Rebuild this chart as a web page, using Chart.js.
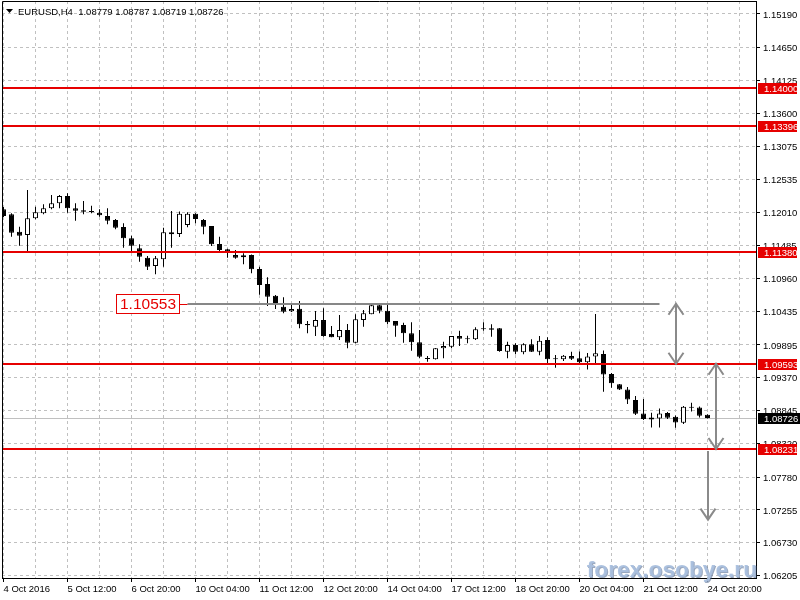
<!DOCTYPE html>
<html>
<head>
<meta charset="utf-8">
<script src="https://cdn.jsdelivr.net/npm/chart.js@4.4.0/dist/chart.umd.min.js"></script>
<style>
  html, body { margin: 0; padding: 0; background: #fff; }
  #wrap { width: 800px; height: 600px; position: relative; }
</style>
</head>
<body>
<div id="wrap"><canvas id="chart" width="800" height="600"></canvas></div>
<script>
// EURUSD H4 candles, 4 Oct 2016 04:00 .. 24 Oct 2016 20:00
const symbol = 'EURUSD,H4';
const opens = [
  1.12064, 1.11984, 1.11706, 1.11653, 1.11920, 1.12000, 1.12080, 1.12160, 1.12277, 1.12080,
  1.12048, 1.12037, 1.12010, 1.11957, 1.11893, 1.11781, 1.11600, 1.11440, 1.11290, 1.11157,
  1.11264, 1.11696, 1.11669, 1.11813, 1.11992, 1.11893, 1.11797, 1.11509, 1.11424, 1.11333,
  1.11296, 1.11333, 1.11109, 1.10869, 1.10682, 1.10506, 1.10432, 1.10474, 1.10229, 1.10186,
  1.10293, 1.10069, 1.10016, 1.10133, 1.09930, 1.10293, 1.10384, 1.10530, 1.10442, 1.10277,
  1.10213, 1.10080, 1.09936, 1.09669, 1.09664, 1.09840, 1.09866, 1.10037, 1.09984, 1.09984,
  1.10144, 1.10160, 1.10160, 1.09786, 1.09893, 1.09776, 1.09904, 1.09786, 1.09973, 1.09664,
  1.09664, 1.09717, 1.09680, 1.09616, 1.09709, 1.09749, 1.09429, 1.09264, 1.09184, 1.09013,
  1.08800, 1.08704, 1.08720, 1.08805, 1.08746, 1.08650, 1.08890, 1.08893, 1.08779
];
const highs = [
  1.12101, 1.12000, 1.11786, 1.12373, 1.12106, 1.12144, 1.12293, 1.12293, 1.12320, 1.12160,
  1.12197, 1.12122, 1.12064, 1.12080, 1.11909, 1.11840, 1.11642, 1.11504, 1.11317, 1.11317,
  1.11770, 1.12037, 1.12029, 1.12016, 1.12000, 1.11909, 1.11797, 1.11626, 1.11434, 1.11413,
  1.11360, 1.11340, 1.11146, 1.10976, 1.10693, 1.10656, 1.10544, 1.10597, 1.10277, 1.10437,
  1.10480, 1.10197, 1.10373, 1.10229, 1.10384, 1.10453, 1.10553, 1.10553, 1.10533, 1.10277,
  1.10250, 1.10256, 1.10133, 1.09717, 1.09845, 1.09946, 1.10037, 1.10122, 1.10042, 1.10176,
  1.10256, 1.10224, 1.10165, 1.09946, 1.09920, 1.09920, 1.09984, 1.10037, 1.10016, 1.09733,
  1.09733, 1.09786, 1.09789, 1.09765, 1.10389, 1.09805, 1.09445, 1.09269, 1.09221, 1.09077,
  1.09029, 1.08810, 1.08880, 1.08821, 1.08768, 1.08917, 1.08970, 1.08912, 1.08787
];
const lows = [
  1.11941, 1.11626, 1.11482, 1.11386, 1.11904, 1.11984, 1.12064, 1.12080, 1.12010, 1.11882,
  1.11984, 1.12000, 1.11946, 1.11824, 1.11744, 1.11450, 1.11376, 1.11226, 1.11093, 1.11024,
  1.11146, 1.11450, 1.11621, 1.11776, 1.11840, 1.11664, 1.11477, 1.11397, 1.11290, 1.11274,
  1.11184, 1.11040, 1.10698, 1.10517, 1.10469, 1.10400, 1.10421, 1.10160, 1.10080, 1.10037,
  1.10026, 1.10016, 1.09973, 1.09840, 1.09920, 1.10186, 1.10384, 1.10400, 1.10224, 1.10026,
  1.09930, 1.09802, 1.09680, 1.09626, 1.09660, 1.09680, 1.09840, 1.09877, 1.09920, 1.09973,
  1.10122, 1.10026, 1.09786, 1.09680, 1.09744, 1.09744, 1.09781, 1.09728, 1.09600, 1.09530,
  1.09637, 1.09653, 1.09600, 1.09501, 1.09600, 1.09146, 1.09210, 1.09173, 1.08949, 1.08773,
  1.08693, 1.08573, 1.08573, 1.08709, 1.08570, 1.08629, 1.08829, 1.08736, 1.08719
];
const closes = [
  1.11957, 1.11690, 1.11642, 1.11920, 1.12016, 1.12080, 1.12160, 1.12277, 1.12080, 1.12042,
  1.12026, 1.12016, 1.11968, 1.11882, 1.11770, 1.11600, 1.11482, 1.11306, 1.11146, 1.11280,
  1.11696, 1.11664, 1.11992, 1.11992, 1.11909, 1.11786, 1.11504, 1.11413, 1.11376, 1.11290,
  1.11328, 1.11104, 1.10853, 1.10666, 1.10533, 1.10426, 1.10469, 1.10224, 1.10208, 1.10293,
  1.10037, 1.10016, 1.10133, 1.09930, 1.10304, 1.10400, 1.10530, 1.10442, 1.10256, 1.10202,
  1.10080, 1.09936, 1.09706, 1.09669, 1.09840, 1.09877, 1.10037, 1.09994, 1.09984, 1.10144,
  1.10144, 1.10138, 1.09797, 1.09893, 1.09786, 1.09904, 1.09786, 1.09962, 1.09664, 1.09664,
  1.09722, 1.09674, 1.09616, 1.09709, 1.09760, 1.09421, 1.09280, 1.09184, 1.09024, 1.08794,
  1.08709, 1.08736, 1.08800, 1.08730, 1.08653, 1.08906, 1.08890, 1.08762, 1.08726
];

// time axis labels, one every 8 bars
const xLabels = ['4 Oct 2016', '5 Oct 12:00', '6 Oct 20:00', '10 Oct 04:00', '11 Oct 12:00', '12 Oct 20:00',
  '14 Oct 04:00', '17 Oct 12:00', '18 Oct 20:00', '20 Oct 04:00', '21 Oct 12:00', '24 Oct 20:00'];
const yTicks = [1.15190, 1.14650, 1.14125, 1.13600, 1.13075, 1.12535, 1.12010, 1.11485, 1.10960,
  1.10435, 1.09895, 1.09370, 1.08845, 1.08320, 1.07780, 1.07255, 1.06730, 1.06205];

// drawn objects
const levels = [1.14000, 1.13396, 1.11380, 1.09593, 1.08231];
const markedLevel = 1.10553;
const markedFrom = 23;
const markedTo = 82;
const arrowBars = [84, 89, 88];
const arrowFrom = [1.10553, 1.09593, 1.08200];
const arrowTo = [1.09593, 1.08231, 1.07100];
const arrowHeads = [2, 2, 1];

const last = closes.length - 1;
const idx = closes.map((_, i) => i);

const RED = '#e60000';
const AXIS_FONT = { family: 'Liberation Sans', size: 9.5 };

function drawHead(ctx, x, y, dir) {
  ctx.beginPath();
  ctx.moveTo(x - 7.5, y + dir * 11);
  ctx.lineTo(x, y);
  ctx.lineTo(x + 7.5, y + dir * 11);
  ctx.stroke();
}

const objectsPlugin = {
  id: 'objects',
  beforeDatasetsDraw(chart) {
    const { ctx, chartArea: a, scales: { y } } = chart;
    // bid line
    const by = Math.round(y.getPixelForValue(closes[last])) + 0.5;
    ctx.save();
    ctx.strokeStyle = '#c0c0c0';
    ctx.lineWidth = 1;
    ctx.beginPath();
    ctx.moveTo(a.left, by);
    ctx.lineTo(a.right, by);
    ctx.stroke();
    ctx.restore();
  },
  afterDatasetsDraw(chart) {
    const { ctx, chartArea: a, scales: { x, y } } = chart;
    ctx.save();
    // horizontal red levels
    ctx.strokeStyle = RED;
    ctx.lineWidth = 2;
    levels.forEach(v => {
      const py = Math.round(y.getPixelForValue(v));
      ctx.beginPath();
      ctx.moveTo(a.left, py);
      ctx.lineTo(a.right, py);
      ctx.stroke();
    });

    // marked level with its price label
    const my = Math.round(y.getPixelForValue(markedLevel));
    const mx1 = x.getPixelForValue(markedFrom);
    const mx2 = x.getPixelForValue(markedTo);
    ctx.strokeStyle = '#878787';
    ctx.lineWidth = 2;
    ctx.beginPath();
    ctx.moveTo(mx1, my);
    ctx.lineTo(mx2, my);
    ctx.stroke();
    const bx = Math.round(mx1) - 72;
    ctx.strokeStyle = RED;
    ctx.lineWidth = 1;
    ctx.beginPath();
    ctx.moveTo(bx + 63, my + 0.5);
    ctx.lineTo(mx1, my + 0.5);
    ctx.stroke();
    ctx.fillStyle = '#fff';
    ctx.fillRect(bx, my - 10, 63, 20);
    ctx.strokeRect(bx + 0.5, my - 9.5, 63, 19);
    ctx.fillStyle = RED;
    ctx.font = '15.5px "Liberation Sans"';
    ctx.textAlign = 'center';
    ctx.textBaseline = 'middle';
    ctx.fillText(markedLevel.toFixed(5), bx + 32, my + 1);

    // arrows
    ctx.strokeStyle = '#8a8a8a';
    ctx.lineWidth = 2;
    arrowBars.forEach((b, i) => {
      const ax = Math.round(x.getPixelForValue(b));
      const y1 = y.getPixelForValue(arrowFrom[i]);
      const y2 = y.getPixelForValue(arrowTo[i]);
      ctx.beginPath();
      ctx.moveTo(ax, y1);
      ctx.lineTo(ax, y2);
      ctx.stroke();
      drawHead(ctx, ax, y2, -1);
      if (arrowHeads[i] === 2) drawHead(ctx, ax, y1, 1);
    });
    ctx.restore();
  },
  afterDraw(chart) {
    const { ctx, chartArea: a, scales: { y } } = chart;
    ctx.save();
    // frame top / left
    ctx.strokeStyle = '#000';
    ctx.lineWidth = 1;
    ctx.beginPath();
    ctx.moveTo(a.left + 0.5, a.bottom);
    ctx.lineTo(a.left + 0.5, a.top + 0.5);
    ctx.lineTo(a.right, a.top + 0.5);
    ctx.stroke();

    // price tags on the axis
    ctx.font = '9.5px "Liberation Sans"';
    ctx.textAlign = 'left';
    ctx.textBaseline = 'middle';
    const tag = (v, color, w) => {
      const py = Math.round(y.getPixelForValue(v));
      ctx.fillStyle = color;
      ctx.fillRect(a.right + 2, py - 5, w, 11);
      ctx.fillStyle = '#fff';
      ctx.fillText(v.toFixed(5), a.right + 8, py + 1);
    };
    levels.forEach(v => tag(v, RED, 39));
    tag(closes[last], '#000', 44);

    // header
    ctx.fillStyle = '#000';
    ctx.beginPath();
    ctx.moveTo(6, 9);
    ctx.lineTo(13, 9);
    ctx.lineTo(9.5, 13);
    ctx.closePath();
    ctx.fill();
    ctx.font = '9.5px "Liberation Sans"';
    ctx.textBaseline = 'alphabetic';
    const hdr = symbol + '  ' + [opens[last], highs[last], lows[last], closes[last]].map(v => v.toFixed(5)).join(' ');
    ctx.fillText(hdr, 18, 15);

    // watermark
    ctx.font = 'bold 22.7px "Liberation Sans"';
    ctx.textAlign = 'right';
    ctx.textBaseline = 'alphabetic';
    ctx.fillStyle = 'rgba(70,95,135,0.55)';
    ctx.fillText('forex.osobye.ru', 758, 578);
    ctx.fillStyle = 'rgba(170,192,222,0.95)';
    ctx.fillText('forex.osobye.ru', 757, 577);
    ctx.restore();
  }
};

new Chart(document.getElementById('chart'), {
  type: 'bar',
  data: {
    datasets: [
      {
        label: 'body',
        data: idx.map(i => ({ x: i, y: [opens[i], closes[i]] })),
        backgroundColor: c => closes[c.dataIndex] < opens[c.dataIndex] ? '#000' : '#fff',
        borderColor: '#000',
        borderWidth: 1,
        borderSkipped: false,
        barThickness: 5,
        minBarLength: 1,
        grouped: false,
        inflateAmount: 0
      },
      {
        label: 'wick',
        data: idx.map(i => ({ x: i, y: [lows[i], highs[i]] })),
        backgroundColor: '#000',
        borderWidth: 0,
        barThickness: 1,
        grouped: false,
        inflateAmount: 0
      }
    ]
  },
  options: {
    responsive: false,
    animation: false,
    devicePixelRatio: 1,
    layout: { padding: { left: 2, top: 1, right: 0, bottom: 0 } },
    plugins: { legend: { display: false }, tooltip: { enabled: false } },
    scales: {
      x: {
        type: 'linear',
        offset: false,
        min: -0.1875,
        max: 94.0625,
        afterBuildTicks: s => {
          s.ticks = [];
          for (let v = 0; v <= 92; v += 4) s.ticks.push({ value: v });
        },
        afterFit: s => { s.height = 22; s.paddingLeft = 0; s.paddingRight = 0; },
        grid: {
          offset: false,
          color: '#c0c0c0',
          tickLength: 4,
          tickColor: c => (c.tick && c.tick.value % 8 === 0) ? '#000' : 'rgba(0,0,0,0)'
        },
        border: { display: true, color: '#000', dash: [3, 3] },
        ticks: {
          autoSkip: false,
          maxRotation: 0,
          align: 'start',
          padding: 2,
          color: '#000',
          font: AXIS_FONT,
          callback: v => (v % 8 === 0 && xLabels[v / 8]) ? xLabels[v / 8] : ''
        }
      },
      y: {
        position: 'right',
        min: 1.06167,
        max: 1.15396,
        afterBuildTicks: s => { s.ticks = yTicks.map(v => ({ value: v })); },
        afterFit: s => { s.width = 44; s.paddingTop = 0; s.paddingBottom = 0; },
        grid: { color: '#c0c0c0', tickLength: 4, tickColor: '#000' },
        border: { display: true, color: '#000', dash: [3, 3] },
        ticks: {
          padding: 3,
          color: '#000',
          font: AXIS_FONT,
          labelOffset: 1,
          callback: v => v.toFixed(5)
        }
      }
    }
  },
  plugins: [objectsPlugin]
});
</script>
</body>
</html>
